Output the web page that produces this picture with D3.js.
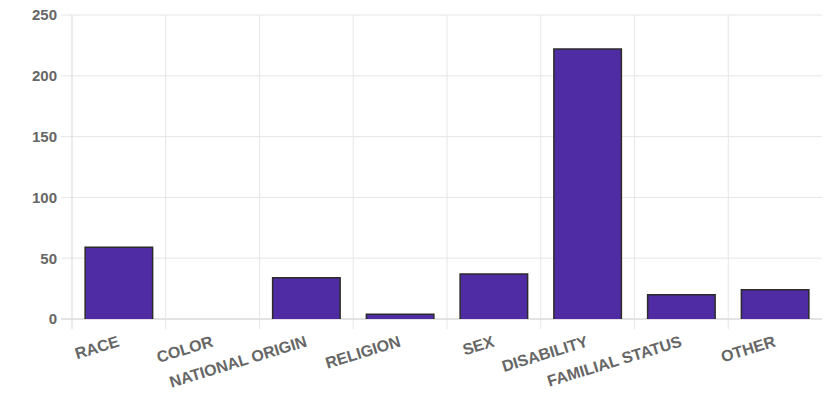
<!DOCTYPE html>
<html>
<head>
<meta charset="utf-8">
<script src="https://cdn.jsdelivr.net/npm/d3@7"></script>
<style>
  html, body { margin: 0; padding: 0; background: #fff; }
  svg { display: block; }
  text { font-family: "Liberation Sans", Arial, Helvetica, sans-serif; font-weight: bold; fill: #666; }
</style>
</head>
<body>
<svg id="chart" width="836" height="393"></svg>
<script>
// Complaint counts by basis
const categories = ["RACE", "COLOR", "NATIONAL ORIGIN", "RELIGION", "SEX", "DISABILITY", "FAMILIAL STATUS", "OTHER"];
const counts = [59, 0, 34, 4, 37, 222, 20, 24];
const yTicks = [0, 50, 100, 150, 200, 250];

const svg = d3.select("#chart");
const plotLeft = 72, plotRight = 822, plotTop = 15, plotBottom = 319;

const x = d3.scaleBand().domain(categories).range([plotLeft, plotRight]).paddingInner(0).paddingOuter(0);
const y = d3.scaleLinear().domain([0, 250]).range([plotBottom, plotTop]);

const gridColor = "#e6e6e6";

// horizontal grid lines with tick marks to the left
svg.append("g").selectAll("line").data(yTicks).join("line")
  .attr("x1", plotLeft - 11).attr("x2", plotRight)
  .attr("y1", d => y(d)).attr("y2", d => y(d))
  .attr("stroke", gridColor).attr("stroke-width", 1);

// vertical grid lines at category boundaries, extending below the axis
const bounds = categories.map(c => x(c));
svg.append("g").selectAll("line").data(bounds).join("line")
  .attr("x1", d => d).attr("x2", d => d)
  .attr("y1", plotTop).attr("y2", plotBottom + 10)
  .attr("stroke", (d, i) => i === 0 ? "#d9d9d9" : gridColor).attr("stroke-width", 1);

// zero line
svg.append("line")
  .attr("x1", plotLeft - 11).attr("x2", plotRight)
  .attr("y1", y(0)).attr("y2", y(0))
  .attr("stroke", "#dedede").attr("stroke-width", 1.5);

// y tick labels
svg.append("g").selectAll("text").data(yTicks).join("text")
  .attr("x", plotLeft - 15).attr("y", d => y(d))
  .attr("dy", "0.36em")
  .attr("text-anchor", "end")
  .style("font-size", "15px")
  .text(d => d);

// bars
const barW = x.bandwidth() * 0.72;
const bars = svg.append("g");
categories.forEach((c, i) => {
  const v = counts[i];
  if (v <= 0) return;
  const x0 = x(c) + (x.bandwidth() - barW) / 2;
  const x1 = x0 + barW;
  const yt = y(v), yb = y(0);
  bars.append("rect")
    .attr("x", x0).attr("y", yt)
    .attr("width", barW).attr("height", yb - yt)
    .attr("fill", "#4f2ca3");
  bars.append("path")
    .attr("d", `M${x0},${yb}V${yt}H${x1}V${yb}`)
    .attr("fill", "none")
    .attr("stroke", "#2b2b2b")
    .attr("stroke-width", 1.5);
});

// rotated category labels
svg.append("g").selectAll("text").data(categories).join("text")
  .attr("transform", d => `translate(${x(d) + x.bandwidth() / 2 - 2},335) rotate(-17)`)
  .attr("text-anchor", "end")
  .attr("dy", "0.72em")
  .style("font-size", "16px")
  .text(d => d);
</script>
</body>
</html>
